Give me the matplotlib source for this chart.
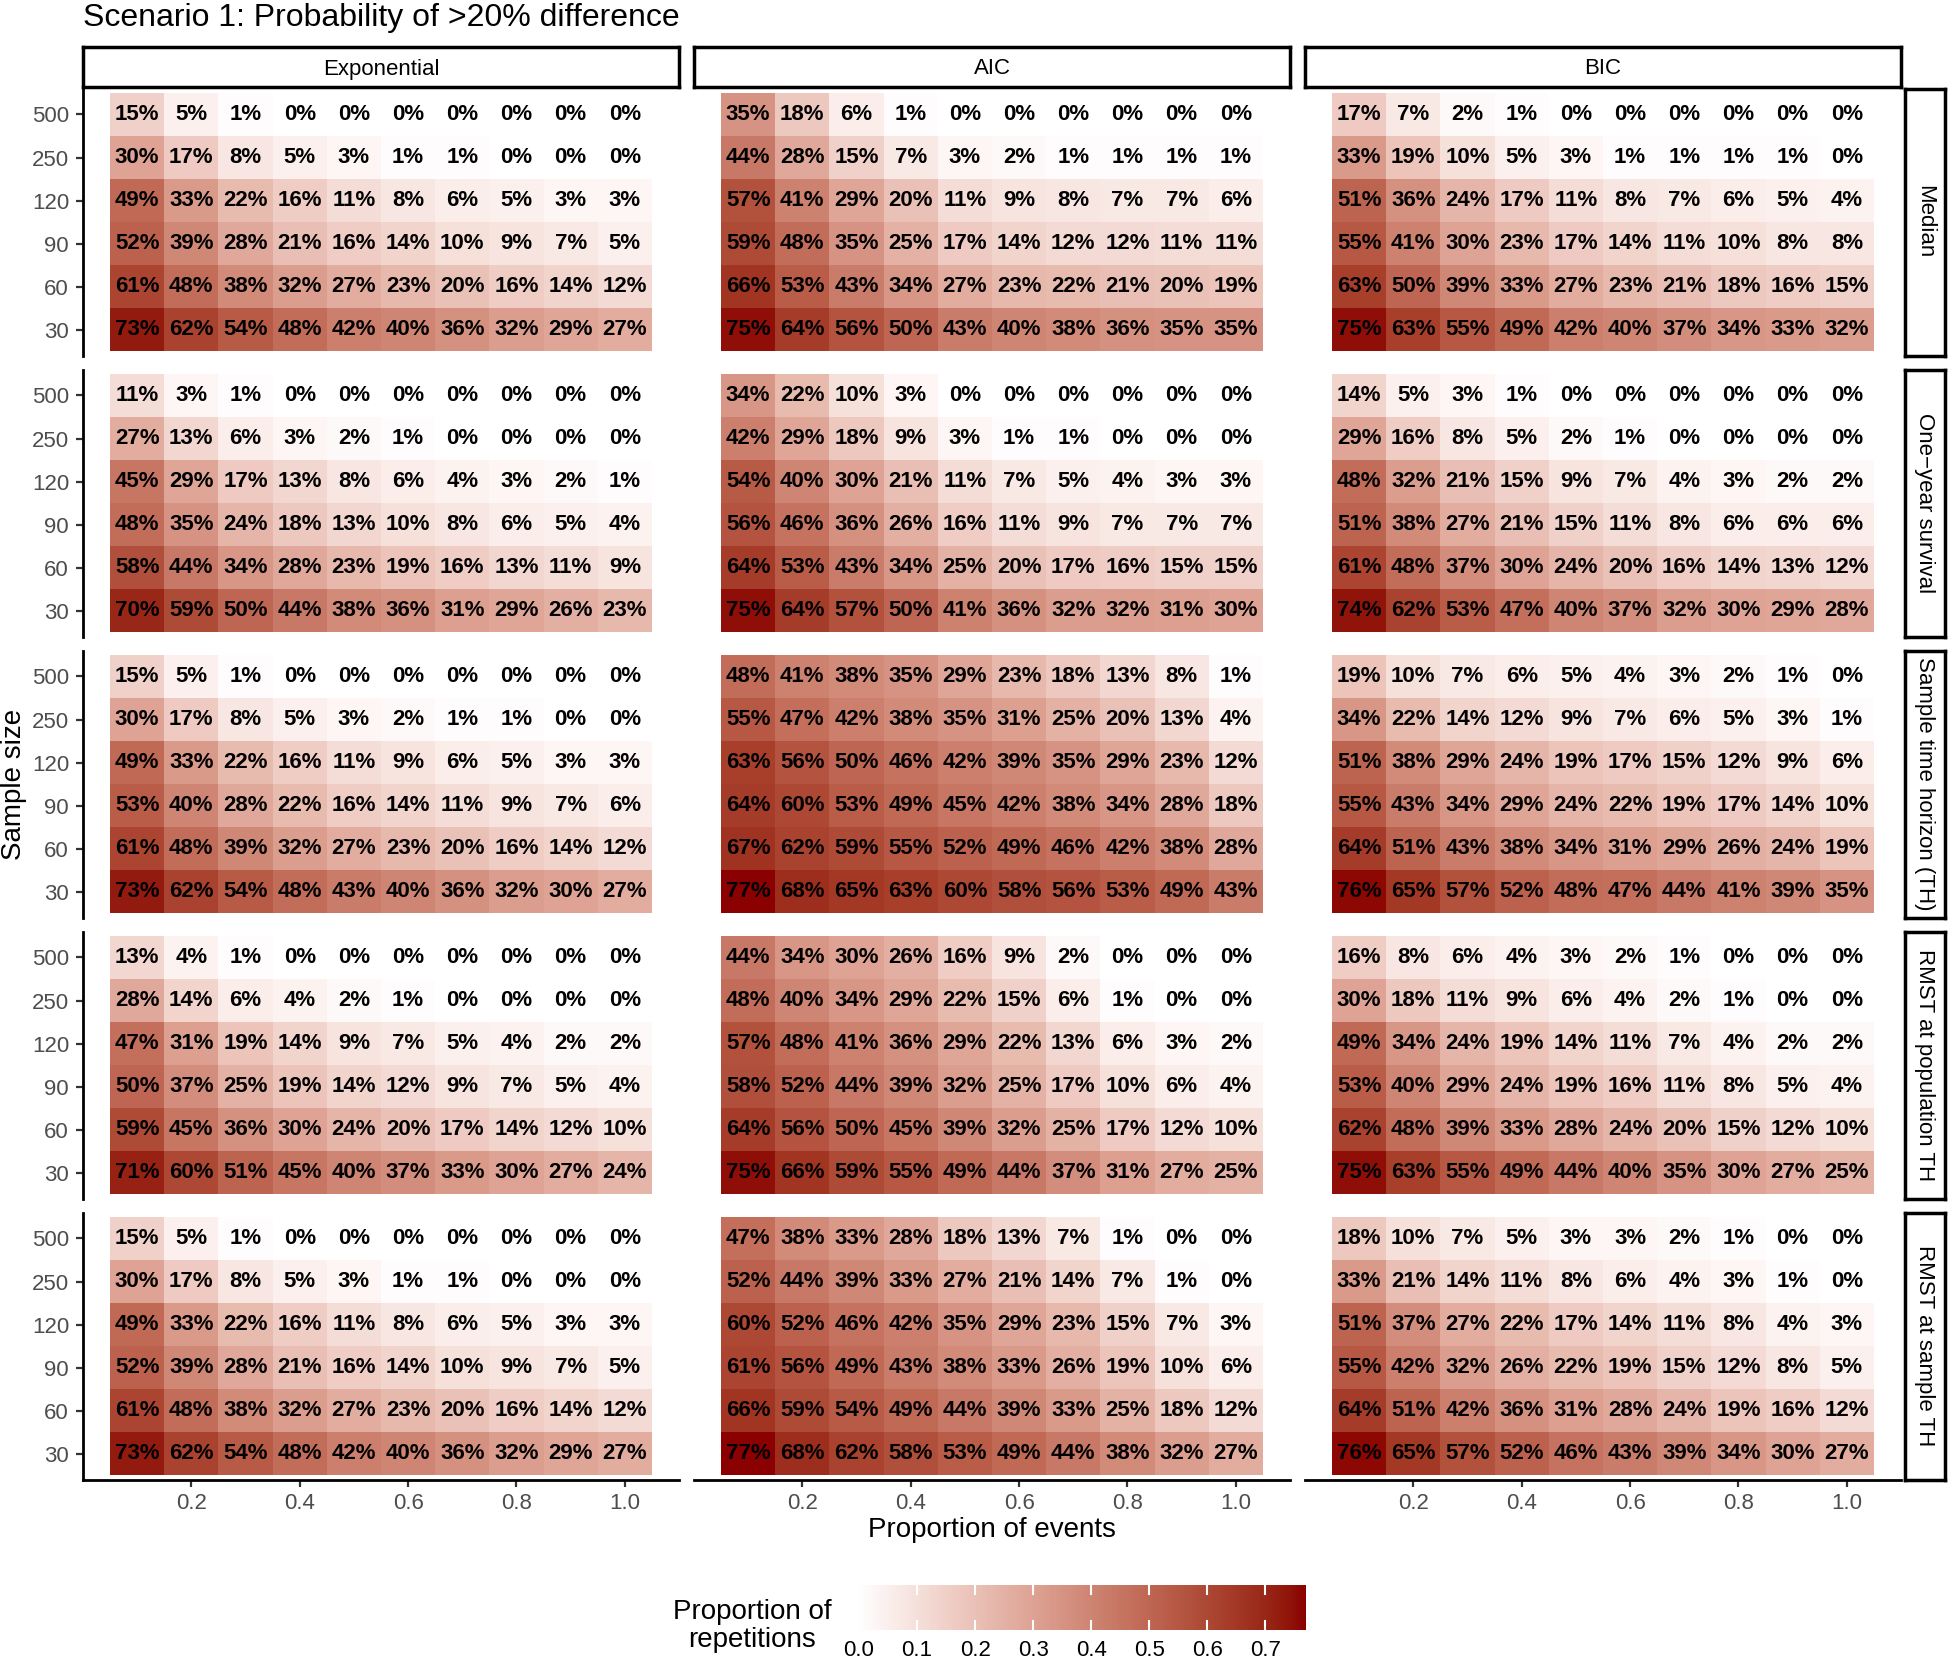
import numpy as np
import matplotlib.pyplot as plt
from matplotlib.colors import ListedColormap, Normalize

# ===================== DATA =====================
sample_sizes = [500, 250, 120, 90, 60, 30]          # top to bottom
proportions = [0.1, 0.2, 0.3, 0.4, 0.5, 0.6, 0.7, 0.8, 0.9, 1.0]
models = ['Exponential', 'AIC', 'BIC']
measures = ['Median', 'One\u2212year survival', 'Sample time horizon (TH)',
            'RMST at population TH', 'RMST at sample TH']
x_ticks = [0.2, 0.4, 0.6, 0.8, 1.0]
legend_ticks = [0.0, 0.1, 0.2, 0.3, 0.4, 0.5, 0.6, 0.7]
fill_max = 0.77

# percentages, rows = sample sizes (500 ... 30), cols = proportion of events
exp_median = [
    [15, 5, 1, 0, 0, 0, 0, 0, 0, 0],
    [30, 17, 8, 5, 3, 1, 1, 0, 0, 0],
    [49, 33, 22, 16, 11, 8, 6, 5, 3, 3],
    [52, 39, 28, 21, 16, 14, 10, 9, 7, 5],
    [61, 48, 38, 32, 27, 23, 20, 16, 14, 12],
    [73, 62, 54, 48, 42, 40, 36, 32, 29, 27],
]
aic_median = [
    [35, 18, 6, 1, 0, 0, 0, 0, 0, 0],
    [44, 28, 15, 7, 3, 2, 1, 1, 1, 1],
    [57, 41, 29, 20, 11, 9, 8, 7, 7, 6],
    [59, 48, 35, 25, 17, 14, 12, 12, 11, 11],
    [66, 53, 43, 34, 27, 23, 22, 21, 20, 19],
    [75, 64, 56, 50, 43, 40, 38, 36, 35, 35],
]
bic_median = [
    [17, 7, 2, 1, 0, 0, 0, 0, 0, 0],
    [33, 19, 10, 5, 3, 1, 1, 1, 1, 0],
    [51, 36, 24, 17, 11, 8, 7, 6, 5, 4],
    [55, 41, 30, 23, 17, 14, 11, 10, 8, 8],
    [63, 50, 39, 33, 27, 23, 21, 18, 16, 15],
    [75, 63, 55, 49, 42, 40, 37, 34, 33, 32],
]
exp_oneyear = [
    [11, 3, 1, 0, 0, 0, 0, 0, 0, 0],
    [27, 13, 6, 3, 2, 1, 0, 0, 0, 0],
    [45, 29, 17, 13, 8, 6, 4, 3, 2, 1],
    [48, 35, 24, 18, 13, 10, 8, 6, 5, 4],
    [58, 44, 34, 28, 23, 19, 16, 13, 11, 9],
    [70, 59, 50, 44, 38, 36, 31, 29, 26, 23],
]
aic_oneyear = [
    [34, 22, 10, 3, 0, 0, 0, 0, 0, 0],
    [42, 29, 18, 9, 3, 1, 1, 0, 0, 0],
    [54, 40, 30, 21, 11, 7, 5, 4, 3, 3],
    [56, 46, 36, 26, 16, 11, 9, 7, 7, 7],
    [64, 53, 43, 34, 25, 20, 17, 16, 15, 15],
    [75, 64, 57, 50, 41, 36, 32, 32, 31, 30],
]
bic_oneyear = [
    [14, 5, 3, 1, 0, 0, 0, 0, 0, 0],
    [29, 16, 8, 5, 2, 1, 0, 0, 0, 0],
    [48, 32, 21, 15, 9, 7, 4, 3, 2, 2],
    [51, 38, 27, 21, 15, 11, 8, 6, 6, 6],
    [61, 48, 37, 30, 24, 20, 16, 14, 13, 12],
    [74, 62, 53, 47, 40, 37, 32, 30, 29, 28],
]
exp_sample_th = [
    [15, 5, 1, 0, 0, 0, 0, 0, 0, 0],
    [30, 17, 8, 5, 3, 2, 1, 1, 0, 0],
    [49, 33, 22, 16, 11, 9, 6, 5, 3, 3],
    [53, 40, 28, 22, 16, 14, 11, 9, 7, 6],
    [61, 48, 39, 32, 27, 23, 20, 16, 14, 12],
    [73, 62, 54, 48, 43, 40, 36, 32, 30, 27],
]
aic_sample_th = [
    [48, 41, 38, 35, 29, 23, 18, 13, 8, 1],
    [55, 47, 42, 38, 35, 31, 25, 20, 13, 4],
    [63, 56, 50, 46, 42, 39, 35, 29, 23, 12],
    [64, 60, 53, 49, 45, 42, 38, 34, 28, 18],
    [67, 62, 59, 55, 52, 49, 46, 42, 38, 28],
    [77, 68, 65, 63, 60, 58, 56, 53, 49, 43],
]
bic_sample_th = [
    [19, 10, 7, 6, 5, 4, 3, 2, 1, 0],
    [34, 22, 14, 12, 9, 7, 6, 5, 3, 1],
    [51, 38, 29, 24, 19, 17, 15, 12, 9, 6],
    [55, 43, 34, 29, 24, 22, 19, 17, 14, 10],
    [64, 51, 43, 38, 34, 31, 29, 26, 24, 19],
    [76, 65, 57, 52, 48, 47, 44, 41, 39, 35],
]
exp_rmst_pop = [
    [13, 4, 1, 0, 0, 0, 0, 0, 0, 0],
    [28, 14, 6, 4, 2, 1, 0, 0, 0, 0],
    [47, 31, 19, 14, 9, 7, 5, 4, 2, 2],
    [50, 37, 25, 19, 14, 12, 9, 7, 5, 4],
    [59, 45, 36, 30, 24, 20, 17, 14, 12, 10],
    [71, 60, 51, 45, 40, 37, 33, 30, 27, 24],
]
aic_rmst_pop = [
    [44, 34, 30, 26, 16, 9, 2, 0, 0, 0],
    [48, 40, 34, 29, 22, 15, 6, 1, 0, 0],
    [57, 48, 41, 36, 29, 22, 13, 6, 3, 2],
    [58, 52, 44, 39, 32, 25, 17, 10, 6, 4],
    [64, 56, 50, 45, 39, 32, 25, 17, 12, 10],
    [75, 66, 59, 55, 49, 44, 37, 31, 27, 25],
]
bic_rmst_pop = [
    [16, 8, 6, 4, 3, 2, 1, 0, 0, 0],
    [30, 18, 11, 9, 6, 4, 2, 1, 0, 0],
    [49, 34, 24, 19, 14, 11, 7, 4, 2, 2],
    [53, 40, 29, 24, 19, 16, 11, 8, 5, 4],
    [62, 48, 39, 33, 28, 24, 20, 15, 12, 10],
    [75, 63, 55, 49, 44, 40, 35, 30, 27, 25],
]
exp_rmst_sample = [
    [15, 5, 1, 0, 0, 0, 0, 0, 0, 0],
    [30, 17, 8, 5, 3, 1, 1, 0, 0, 0],
    [49, 33, 22, 16, 11, 8, 6, 5, 3, 3],
    [52, 39, 28, 21, 16, 14, 10, 9, 7, 5],
    [61, 48, 38, 32, 27, 23, 20, 16, 14, 12],
    [73, 62, 54, 48, 42, 40, 36, 32, 29, 27],
]
aic_rmst_sample = [
    [47, 38, 33, 28, 18, 13, 7, 1, 0, 0],
    [52, 44, 39, 33, 27, 21, 14, 7, 1, 0],
    [60, 52, 46, 42, 35, 29, 23, 15, 7, 3],
    [61, 56, 49, 43, 38, 33, 26, 19, 10, 6],
    [66, 59, 54, 49, 44, 39, 33, 25, 18, 12],
    [77, 68, 62, 58, 53, 49, 44, 38, 32, 27],
]
bic_rmst_sample = [
    [18, 10, 7, 5, 3, 3, 2, 1, 0, 0],
    [33, 21, 14, 11, 8, 6, 4, 3, 1, 0],
    [51, 37, 27, 22, 17, 14, 11, 8, 4, 3],
    [55, 42, 32, 26, 22, 19, 15, 12, 8, 5],
    [64, 51, 42, 36, 31, 28, 24, 19, 16, 12],
    [76, 65, 57, 52, 46, 43, 39, 34, 30, 27],
]

panels = [
    [exp_median, aic_median, bic_median],
    [exp_oneyear, aic_oneyear, bic_oneyear],
    [exp_sample_th, aic_sample_th, bic_sample_th],
    [exp_rmst_pop, aic_rmst_pop, bic_rmst_pop],
    [exp_rmst_sample, aic_rmst_sample, bic_rmst_sample],
]


# ===================== COLOURS (white -> darkred, Lab like ggplot) =====================
def srgb_to_lab(rgb):
    c = np.asarray(rgb, dtype=float)
    lin = np.where(c <= 0.04045, c / 12.92, ((c + 0.055) / 1.055) ** 2.4)
    M = np.array([[0.4124564, 0.3575761, 0.1804375],
                  [0.2126729, 0.7151522, 0.0721750],
                  [0.0193339, 0.1191920, 0.9503041]])
    xyz = M @ lin / np.array([0.95047, 1.0, 1.08883])
    d = 6 / 29
    f = np.where(xyz > d ** 3, np.cbrt(xyz), xyz / (3 * d * d) + 4 / 29)
    return np.array([116 * f[1] - 16, 500 * (f[0] - f[1]), 200 * (f[1] - f[2])])


def lab_to_srgb(lab):
    L, a, b = lab
    fy = (L + 16) / 116
    f = np.array([fy + a / 500, fy, fy - b / 200])
    d = 6 / 29
    xyz = np.where(f > d, f ** 3, 3 * d * d * (f - 4 / 29)) * np.array([0.95047, 1.0, 1.08883])
    Minv = np.array([[3.2404542, -1.5371385, -0.4985314],
                     [-0.9692660, 1.8760108, 0.0415560],
                     [0.0556434, -0.2040259, 1.0572252]])
    lin = np.clip(Minv @ xyz, 0, 1)
    c = np.where(lin <= 0.0031308, 12.92 * lin, 1.055 * lin ** (1 / 2.4) - 0.055)
    return np.clip(c, 0, 1)


lab_lo = srgb_to_lab([1.0, 1.0, 1.0])
lab_hi = srgb_to_lab([139 / 255, 0, 0])
cmap = ListedColormap([lab_to_srgb(lab_lo + t * (lab_hi - lab_lo)) for t in np.linspace(0, 1, 256)])
norm = Normalize(0, fill_max)

# ===================== FIGURE =====================
plt.rcParams['font.family'] = ['Liberation Sans', 'DejaVu Sans']

W, H = 1952, 1660
fig = plt.figure(figsize=(W / 100, H / 100), dpi=100)


def box(x0, y0, x1, y1):
    # pixel box (top-left origin) -> figure fraction rect
    return [x0 / W, 1 - y1 / H, (x1 - x0) / W, (y1 - y0) / H]


col_x = [83, 694, 1305]
panel_w = 596
row_y0 = 88.6
panel_h = 267
row_step = 281

tick_col = '#4D4D4D'
x_edges = np.append(np.array(proportions) - 0.05, proportions[-1] + 0.05)
y_edges = np.arange(0.5, len(sample_sizes) + 1, 1.0)

for r, measure in enumerate(measures):
    top = row_y0 + r * row_step
    for c, model in enumerate(models):
        ax = fig.add_axes(box(col_x[c], top, col_x[c] + panel_w, top + panel_h))
        vals = np.array(panels[r][c], dtype=float)
        ax.pcolormesh(x_edges, y_edges, vals[::-1] / 100, cmap=cmap, norm=norm)
        for i, n in enumerate(sample_sizes):
            for j, p in enumerate(proportions):
                ax.text(p, len(sample_sizes) - i, f"{int(vals[i, j])}%", ha='center', va='center',
                        fontsize=16, fontweight='bold', color='black')
        ax.set_xlim(0, 1.1)
        ax.set_ylim(0.4, 6.6)
        for s in ['top', 'right']:
            ax.spines[s].set_visible(False)
        ax.spines['left'].set_linewidth(2)
        ax.spines['bottom'].set_linewidth(2)
        ax.spines['left'].set_visible(c == 0)
        ax.spines['bottom'].set_visible(r == len(measures) - 1)
        if c == 0:
            ax.set_yticks(range(len(sample_sizes), 0, -1))
            ax.set_yticklabels([str(n) for n in sample_sizes])
        else:
            ax.set_yticks([])
        if r == len(measures) - 1:
            ax.set_xticks(x_ticks)
            ax.set_xticklabels([f"{t:.1f}" for t in x_ticks])
        else:
            ax.set_xticks([])
        ax.tick_params(length=5, width=1.6, color='#333333', labelsize=16,
                       labelcolor=tick_col, pad=5)

        # top strips
        if r == 0:
            sax = fig.add_axes(box(col_x[c], 47, col_x[c] + panel_w, 87))
            sax.set_xticks([])
            sax.set_yticks([])
            for s in sax.spines.values():
                s.set_linewidth(2.5)
            sax.text(0.5, 0.45, model, ha='center', va='center', fontsize=16,
                     transform=sax.transAxes)

    # right strips
    rax = fig.add_axes(box(1905, top, 1945, top + panel_h))
    rax.set_xticks([])
    rax.set_yticks([])
    for s in rax.spines.values():
        s.set_linewidth(2.5)
    rax.text(0.5, 0.5, measure, ha='center', va='center', fontsize=16, rotation=-90,
             transform=rax.transAxes)

# titles
fig.text(83 / W, 1 - 26 / H, 'Scenario 1: Probability of >20% difference', fontsize=23,
         ha='left', va='baseline')
fig.text(992 / W, 1 - 1530 / H, 'Proportion of events', fontsize=20, ha='center', va='center')
fig.text(14 / W, 1 - 784 / H, 'Sample size', fontsize=20, ha='center', va='center', rotation=90)

# colour bar legend
cax = fig.add_axes(box(859, 1585, 1306, 1630))
grad = np.linspace(0, fill_max, 512).reshape(1, -1)
cax.imshow(grad, extent=[0, fill_max, 0, 1], aspect='auto', cmap=cmap, norm=norm)
for t in legend_ticks[1:]:
    cax.plot([t, t], [0, 0.2], color='white', lw=1.5)
    cax.plot([t, t], [0.8, 1], color='white', lw=1.5)
cax.set_xlim(0, fill_max)
cax.set_ylim(0, 1)
cax.set_yticks([])
cax.set_xticks(legend_ticks)
cax.set_xticklabels([f"{t:.1f}" for t in legend_ticks])
cax.tick_params(length=0, labelsize=16, pad=7, labelcolor='black')
for s in cax.spines.values():
    s.set_visible(False)
fig.text(752 / W, 1 - 1626 / H, 'Proportion of\nrepetitions', fontsize=20, ha='center',
         va='center', multialignment='center', linespacing=1.1)

fig.savefig('out.png', dpi=100)
